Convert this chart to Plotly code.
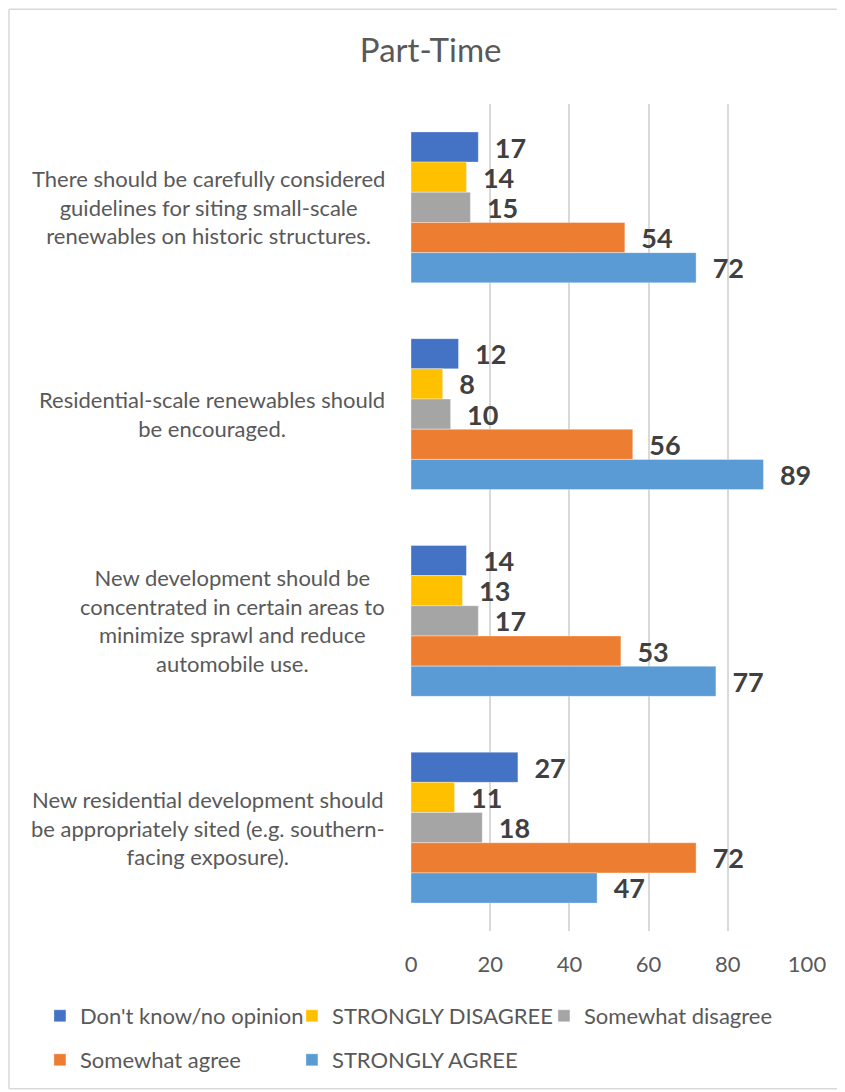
import plotly.graph_objects as go

# statements, top to bottom as shown in the chart
statements = [
    "There should be carefully considered<br>guidelines for siting small-scale<br>renewables on historic structures.",
    "Residential-scale renewables should<br>be encouraged.",
    "New development should be<br>concentrated in certain areas to<br>minimize sprawl and reduce<br>automobile use.",
    "New residential development should<br>be appropriately sited (e.g. southern-<br>facing exposure).",
]

dont_know = [17, 12, 14, 27]
strongly_disagree = [14, 8, 13, 11]
somewhat_disagree = [15, 10, 17, 18]
somewhat_agree = [54, 56, 53, 72]
strongly_agree = [72, 89, 77, 47]

series = [
    ("Don't know/no opinion", dont_know, "#4472C4", "legend"),
    ("STRONGLY DISAGREE", strongly_disagree, "#FFC000", "legend"),
    ("Somewhat disagree", somewhat_disagree, "#A5A5A5", "legend"),
    ("Somewhat agree", somewhat_agree, "#ED7D31", "legend2"),
    ("STRONGLY AGREE", strongly_agree, "#5B9BD5", "legend2"),
]

FONT = "Lato, 'Open Sans', sans-serif"
GREY_TXT = "#595959"

fig = go.Figure()
for name, vals, color, leg in series:
    fig.add_trace(go.Bar(
        y=statements,
        x=vals,
        name=name,
        orientation="h",
        marker=dict(color=color, line=dict(color="rgba(255,255,255,0.6)", width=0.6)),
        text=vals,
        texttemplate="\u2002%{x}",
        textposition="outside",
        constraintext="none",
        cliponaxis=False,
        textfont=dict(family=FONT, size=27, color="#404040", weight="bold"),
        legend=leg,
    ))

# category labels, centred line by line like the original
for s in statements:
    fig.add_annotation(
        x=-0.06, xref="paper", y=s, yref="y",
        text=s, showarrow=False, xanchor="right", align="center",
        font=dict(family=FONT, size=22, color=GREY_TXT),
    )

# outer chart border (right edge runs off the picture)
border = dict(color="#D9D9D9", width=1.5)
bx0, bx1, by0, by1 = -1.0152, 1.2, -0.1908, 1.1147
fig.add_shape(type="line", xref="paper", yref="paper", x0=bx0, x1=bx1, y0=by1, y1=by1, line=border)
fig.add_shape(type="line", xref="paper", yref="paper", x0=bx0, x1=bx0, y0=by0, y1=by1, line=border)
fig.add_shape(type="line", xref="paper", yref="paper", x0=bx0, x1=bx1, y0=by0, y1=by0, line=border)

legend_common = dict(
    orientation="h", xanchor="left", yanchor="middle",
    font=dict(family=FONT, size=22, color=GREY_TXT),
    entrywidth=207, entrywidthmode="pixels",
    bgcolor="rgba(0,0,0,0)", itemclick=False,
)

fig.update_layout(
    width=837, height=1084,
    margin=dict(l=403, r=38, t=96, b=160),
    paper_bgcolor="white", plot_bgcolor="white",
    barmode="group", bargap=0.27, bargroupgap=0,
    title=dict(text="Part-Time", x=0.505, xref="container", xanchor="center",
               y=0.961, yref="container", yanchor="middle",
               font=dict(family=FONT, size=33, color=GREY_TXT)),
    font=dict(family=FONT, color=GREY_TXT),
    xaxis=dict(range=[0, 100], dtick=20, showgrid=True, gridcolor="#D9D9D9",
               gridwidth=1.5, zeroline=False, showline=False, ticks="",
               ticklabelstandoff=18,
               tickfont=dict(family=FONT, size=22, color=GREY_TXT)),
    yaxis=dict(autorange="reversed", showticklabels=False, showgrid=False,
               zeroline=False, showline=False, ticks=""),
    legend=dict(x=-0.937, y=-0.1014, **legend_common),
    legend2=dict(x=-0.937, y=-0.1546, **legend_common),
    showlegend=True,
)

fig.write_html("out.html")
